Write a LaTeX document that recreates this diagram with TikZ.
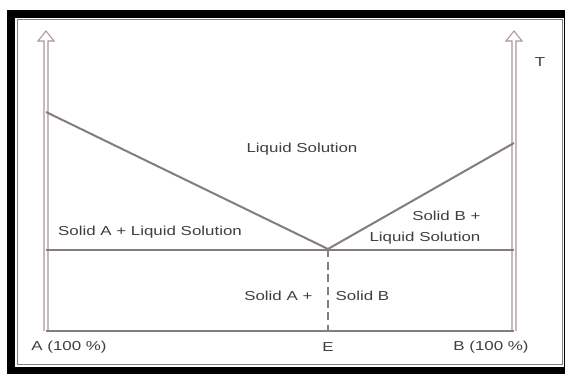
\documentclass[tikz,border=0pt]{standalone}
\usepackage{fontspec}
\setmainfont{Liberation Sans}[FakeStretch=1.3]
\usepackage{tikz}
\usetikzlibrary{positioning,calc}
\definecolor{scangray}{RGB}{132,124,128}
\definecolor{axisgray}{RGB}{168,150,158}
\definecolor{inkgray}{RGB}{66,62,64}

\begin{document}
\begin{tikzpicture}[
        x=0.75pt, y=-0.75pt,
        font=\fontsize{9.75}{15.6}\selectfont,
        phase/.style={draw=scangray, line width=1.5pt},
        axisline/.style={draw=axisgray, line width=0.8pt, line join=miter},
        eutdash/.style={draw=scangray, line width=1.5pt, dash pattern=on 6pt off 3.5pt},
        lbl/.style={text=inkgray, inner sep=1pt, align=center},
    ]
        \useasboundingbox (0,0) rectangle (565,374);
        % Scanned frame.
        \fill[black] (7,10) rectangle (565,374);
        \fill[white] (15,18) rectangle (564,367);
        \draw[gray, line width=0.75pt] (17,20) rectangle (562,365);
        % Temperature axes (hollow arrows).
        \foreach \x in {46,514}{
            \draw[axisline] (\x-2,331) -- (\x-2,41) -- (\x-8,41) -- (\x,31)
                -- (\x+8,41) -- (\x+2,41) -- (\x+2,331);}
        \node[lbl] (tlab) at (540,62) {T};
        % Key points of the diagram.
        \coordinate (meltA) at (46,112);
        \coordinate (meltB) at (514,143);
        \coordinate (eut)   at (328,249);
        \coordinate (solA)  at (46,250);
        \coordinate (solB)  at (514,250);
        \coordinate (baseA) at (46,331);
        \coordinate (baseB) at (514,331);
        \coordinate (baseE) at (328,331);
        % Liquidus, solidus and base.
        \draw[phase] (meltA) -- (eut) -- (meltB);
        \draw[phase] (solA) -- (solB);
        \draw[phase] (baseA) -- (baseB);
        \draw[eutdash] (eut) -- (baseE);
        % Region labels.
        \node[lbl] (liq)  at (302,149) {Liquid Solution};
        \node[lbl] (slA)  at (150,232) {Solid A + Liquid Solution};
        \node[lbl, align=right, anchor=east] (slB) at (482,228)
            {Solid B +\\Liquid Solution};
        \node[lbl, anchor=east] (ssA) at (314,296) {Solid A +};
        \node[lbl, anchor=west] (ssB) at (334,296) {Solid B};
        % Composition axis.
        \node[lbl] (pureA) at (69,347) {A (100 \%)};
        \node[lbl] (elab)  at (328,347) {E};
        \node[lbl] (pureB) at (491,347) {B (100 \%)};
    \end{tikzpicture}
\end{document}
